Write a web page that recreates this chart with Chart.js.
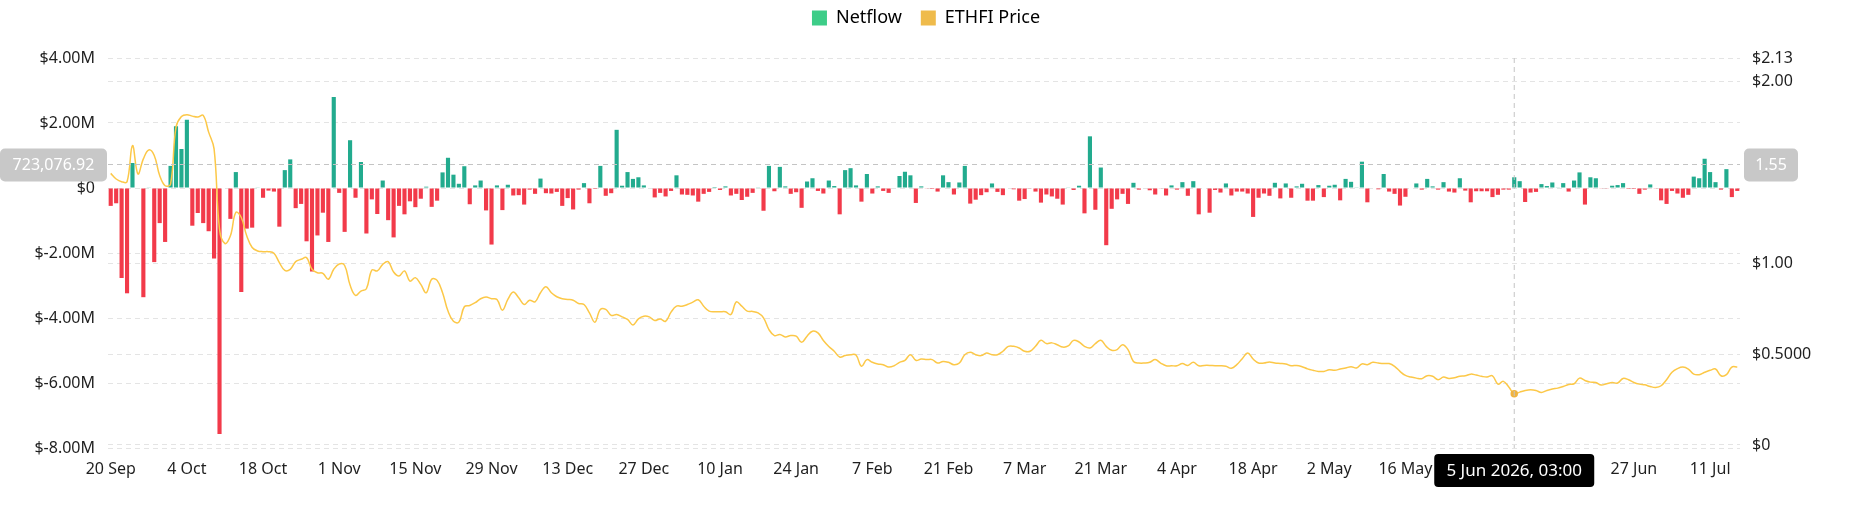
<!DOCTYPE html>
<html lang="en">
<head>
<meta charset="UTF-8">
<title>ETHFI Netflow</title>
<script src="https://cdn.jsdelivr.net/npm/chart.js@4.4.1/dist/chart.umd.min.js"></script>
<style>
  html, body { margin: 0; padding: 0; background: #fff; }
  #wrap { width: 1852px; height: 525px; position: relative; }
</style>
</head>
<body>
<div id="wrap"><canvas id="chart"></canvas></div>
<script>
    // daily series, first day 20 Sep 2025
    const START_DATE = Date.UTC(2025, 8, 20);
    const DAY_COUNT = 300;

    // tick labels, one every 14 days
    const TICK_LABELS = ['20 Sep', '4 Oct', '18 Oct', '1 Nov', '15 Nov', '29 Nov', '13 Dec', '27 Dec',
        '10 Jan', '24 Jan', '7 Feb', '21 Feb', '7 Mar', '21 Mar', '4 Apr', '18 Apr', '2 May',
        '16 May', '30 May', '13 Jun', '27 Jun', '11 Jul'];

    // netflow in $M
    const NETFLOW = [
        -0.55, -0.47, -2.77, -3.24, 0.77, 0, -3.36, 0.02, -2.28, -1.08,
        -1.66, 0.68, 1.9, 1.2, 2.1, -1.16, -0.77, -1.08, -1.33, -2.17,
        -7.57, 0, -0.95, 0.49, -3.2, -1.25, -1.22, 0.02, -0.3, -0.08,
        -0.11, -1.19, 0.55, 0.88, -0.62, -0.49, -1.64, -2.57, -1.46, -0.76,
        -1.66, 2.8, -0.15, -1.35, 1.47, -0.3, 0.8, -1.4, -0.35, -0.8,
        0.23, -0.99, -1.52, -0.55, -0.81, -0.41, -0.59, -0.33, 0.04, -0.58,
        -0.39, 0.48, 0.93, 0.41, 0.13, 0.67, -0.5, 0.08, 0.23, -0.69,
        -1.74, 0.08, -0.68, 0.1, -0.23, -0.22, -0.51, -0.05, -0.18, 0.29,
        -0.16, -0.17, -0.12, -0.55, -0.31, -0.66, -0.05, 0.15, -0.47, -0.03,
        0.68, -0.24, -0.16, 1.79, 0.07, 0.49, 0.28, 0.33, 0.08, 0,
        -0.29, -0.15, -0.26, -0.09, 0.39, -0.2, -0.21, -0.23, -0.42, -0.18,
        -0.12, 0.03, -0.06, 0.05, -0.23, -0.18, -0.37, -0.27, -0.15, 0.01,
        -0.7, 0.68, -0.1, 0.65, 0.05, -0.18, -0.13, -0.61, 0.2, 0.3,
        -0.09, -0.17, 0.23, 0.06, -0.81, 0.55, 0.61, 0.08, -0.42, 0.43,
        -0.17, 0.05, -0.09, -0.15, 0, 0.37, 0.5, 0.39, -0.46, 0.05,
        -0.02, -0.03, -0.11, 0.39, 0.18, -0.2, 0.17, 0.68, -0.48, -0.36,
        -0.22, -0.13, 0.14, -0.12, -0.22, 0, -0.04, -0.39, -0.34, -0.02,
        -0.11, -0.45, -0.2, -0.26, -0.33, -0.51, 0.02, -0.06, 0.07, -0.78,
        1.59, -0.67, 0.63, -1.76, -0.64, -0.35, -0.18, -0.49, 0.16, -0.05,
        0, -0.07, -0.2, -0.02, -0.23, 0.08, -0.05, 0.18, -0.24, 0.21,
        -0.81, 0, -0.76, -0.06, -0.14, 0.14, -0.23, -0.11, -0.11, -0.17,
        -0.89, -0.3, -0.17, -0.24, 0.16, -0.32, 0.14, -0.3, 0.05, 0.13,
        -0.39, -0.39, 0.09, -0.28, 0.07, 0.1, -0.38, 0.28, 0.19, 0.01,
        0.81, -0.44, 0, -0.04, 0.43, -0.11, -0.18, -0.54, -0.27, 0,
        0.14, -0.05, 0.28, 0.05, -0.05, 0.18, -0.11, -0.14, 0.3, -0.08,
        -0.44, -0.1, -0.1, -0.1, -0.28, -0.21, -0.05, -0.05, 0.33, 0.21,
        -0.43, -0.14, -0.12, 0.12, 0.06, 0.17, 0.02, 0.15, -0.11, 0.23,
        0.48, -0.51, 0.33, 0.3, -0.02, -0.01, 0.07, 0.09, 0.15, -0.03,
        -0.03, -0.18, -0.05, 0.11, -0.01, -0.38, -0.49, -0.09, -0.17, -0.3,
        -0.21, 0.35, 0.3, 0.9, 0.49, 0.18, -0.05, 0.58, -0.28, -0.09
    ];

    // ETHFI price in $
    const PRICE = [
        1.495, 1.464, 1.449, 1.449, 1.648, 1.492, 1.575, 1.624, 1.593, 1.483,
        1.427, 1.436, 1.75, 1.808, 1.818, 1.81, 1.805, 1.814, 1.722, 1.63,
        1.188, 1.109, 1.151, 1.28, 1.252, 1.151, 1.087, 1.068, 1.064, 1.064,
        1.055, 1.004, 0.961, 0.967, 1.009, 1.022, 1.031, 0.967, 0.948, 0.945,
        0.912, 0.967, 0.996, 0.988, 0.88, 0.823, 0.847, 0.86, 0.963, 0.958,
        0.994, 1.009, 0.952, 0.93, 0.958, 0.902, 0.921, 0.884, 0.838, 0.912,
        0.906, 0.838, 0.737, 0.681, 0.676, 0.761, 0.768, 0.783, 0.805, 0.814,
        0.805, 0.801, 0.742, 0.801, 0.842, 0.81, 0.773, 0.797, 0.788, 0.838,
        0.871, 0.838, 0.816, 0.805, 0.801, 0.797, 0.779, 0.773, 0.727, 0.676,
        0.746, 0.746, 0.713, 0.718, 0.705, 0.691, 0.661, 0.694, 0.709, 0.705,
        0.685, 0.694, 0.681, 0.731, 0.764, 0.764, 0.773, 0.786, 0.799, 0.764,
        0.737, 0.733, 0.733, 0.733, 0.718, 0.788, 0.764, 0.737, 0.735, 0.727,
        0.7, 0.635, 0.602, 0.608, 0.595, 0.602, 0.599, 0.565, 0.599, 0.626,
        0.617, 0.575, 0.542, 0.516, 0.484, 0.492, 0.497, 0.495, 0.433, 0.47,
        0.455, 0.446, 0.442, 0.429, 0.436, 0.455, 0.466, 0.497, 0.466, 0.473,
        0.47, 0.47, 0.451, 0.46, 0.455, 0.442, 0.451, 0.497, 0.51, 0.497,
        0.492, 0.506, 0.497, 0.497, 0.516, 0.543, 0.543, 0.534, 0.516, 0.516,
        0.543, 0.576, 0.558, 0.562, 0.552, 0.539, 0.545, 0.576, 0.567, 0.543,
        0.534, 0.558, 0.576, 0.543, 0.521, 0.525, 0.552, 0.525, 0.46, 0.451,
        0.451, 0.455, 0.47, 0.451, 0.436, 0.436, 0.436, 0.448, 0.438, 0.455,
        0.436, 0.438, 0.438, 0.436, 0.436, 0.433, 0.422, 0.442, 0.475, 0.506,
        0.473, 0.451, 0.451, 0.457, 0.451, 0.449, 0.446, 0.436, 0.438, 0.431,
        0.419, 0.411, 0.405, 0.405, 0.414, 0.411, 0.418, 0.424, 0.431, 0.424,
        0.446, 0.442, 0.455, 0.451, 0.448, 0.448, 0.433, 0.405, 0.383, 0.374,
        0.368, 0.365, 0.381, 0.378, 0.359, 0.374, 0.366, 0.37, 0.378, 0.381,
        0.39, 0.385, 0.378, 0.374, 0.381, 0.335, 0.35, 0.319, 0.282, 0.291,
        0.3, 0.304, 0.3, 0.289, 0.3, 0.308, 0.313, 0.322, 0.333, 0.337,
        0.368, 0.355, 0.346, 0.344, 0.33, 0.337, 0.344, 0.341, 0.366, 0.359,
        0.344, 0.335, 0.331, 0.322, 0.317, 0.326, 0.359, 0.4, 0.42, 0.429,
        0.418, 0.39, 0.387, 0.4, 0.411, 0.418, 0.381, 0.387, 0.429, 0.429
    ];

    const PRICE_TICKS = [0, 0.5, 1, 2, 2.13];

    // hover state shown in the picture
    const CROSS_INDEX = 258;
    const CROSS_NETFLOW = 0.72307692;
    const CROSS_LEFT_LABEL = '723,076.92';
    const CROSS_RIGHT_LABEL = '1.55';
    const CROSS_DATE_LABEL = '5 Jun 2026, 03:00';

    const GREEN = '#22ab8e';
    const RED = '#f23a4a';
    const YELLOW = '#fcc848';

    const MONTHS = ['Jan', 'Feb', 'Mar', 'Apr', 'May', 'Jun', 'Jul', 'Aug', 'Sep', 'Oct', 'Nov', 'Dec'];
    let labels = [];
    for (let i = 0; i < DAY_COUNT; i++) {
        let d = new Date(START_DATE + i * 86400000);
        labels.push(d.getUTCDate() + ' ' + MONTHS[d.getUTCMonth()] + ' ' + d.getUTCFullYear());
    }

    Chart.defaults.font.family = "'Noto Sans', sans-serif";
    Chart.defaults.font.size = 16;
    Chart.defaults.color = '#1f1f1f';

    const gridStyle = {
        color: '#e4e4e4',
        lineWidth: 1,
        drawTicks: false
    };

    function roundRect(ctx, x, y, w, h, r) {
        ctx.beginPath();
        ctx.moveTo(x + r, y);
        ctx.arcTo(x + w, y, x + w, y + h, r);
        ctx.arcTo(x + w, y + h, x, y + h, r);
        ctx.arcTo(x, y + h, x, y, r);
        ctx.arcTo(x, y, x + w, y, r);
        ctx.closePath();
    }

    const legendSpace = {
        id: 'legendSpace',
        beforeInit(chart) {
            const fit = chart.legend.fit;
            chart.legend.fit = function () {
                fit.bind(chart.legend)();
                this.height += 21;
            };
        }
    };

    const crosshair = {
        id: 'crosshair',
        afterDraw(chart) {
            const ctx = chart.ctx;
            const area = chart.chartArea;
            const x = chart.scales.x.getPixelForValue(CROSS_INDEX);
            const y = chart.scales.y.getPixelForValue(CROSS_NETFLOW);
            ctx.save();
            ctx.strokeStyle = '#c4c4c4';
            ctx.lineWidth = 1;
            ctx.setLineDash([5, 4]);
            ctx.beginPath();
            ctx.moveTo(x, area.top);
            ctx.lineTo(x, area.bottom);
            ctx.moveTo(area.left, y);
            ctx.lineTo(area.right, y);
            ctx.stroke();
            ctx.setLineDash([]);

            ctx.font = "16px 'Noto Sans', sans-serif";
            ctx.textBaseline = 'middle';
            ctx.textAlign = 'center';

            // left value box
            ctx.fillStyle = '#c8c8c8';
            roundRect(ctx, 0, y - 16, area.left - 1, 33, 5);
            ctx.fill();
            ctx.fillStyle = '#ffffff';
            ctx.fillText(CROSS_LEFT_LABEL, (area.left - 1) / 2, y + 1);

            // right value box
            ctx.fillStyle = '#c8c8c8';
            roundRect(ctx, area.right + 4, y - 16, 54, 33, 5);
            ctx.fill();
            ctx.fillStyle = '#ffffff';
            ctx.fillText(CROSS_RIGHT_LABEL, area.right + 31, y + 1);

            // date box on the x axis
            ctx.font = "17px 'Noto Sans', sans-serif";
            ctx.fillStyle = '#000000';
            roundRect(ctx, x - 80, area.bottom + 6, 160, 33, 4);
            ctx.fill();
            ctx.fillStyle = '#ffffff';
            ctx.fillText(CROSS_DATE_LABEL, x, area.bottom + 23);
            ctx.restore();
        }
    };

    let ctx = document.getElementById('chart').getContext('2d');
    let chart = new Chart(ctx, {
        data: {
            labels: labels,
            datasets: [{
                type: 'bar',
                label: 'Netflow',
                data: NETFLOW,
                yAxisID: 'y',
                order: 1,
                backgroundColor: (c) => (c.raw >= 0 ? GREEN : RED),
                categoryPercentage: 0.8,
                barPercentage: 0.95
            }, {
                type: 'line',
                label: 'ETHFI Price',
                data: PRICE,
                yAxisID: 'y1',
                order: 0,
                borderColor: YELLOW,
                borderWidth: 1.5,
                tension: 0.4,
                pointRadius: (c) => (c.dataIndex === CROSS_INDEX ? 3 : 0),
                pointBackgroundColor: '#f0b440',
                pointBorderColor: '#f0b440'
            }]
        },
        options: {
            responsive: true,
            maintainAspectRatio: false,
            animation: false,
            layout: { padding: { top: -10, bottom: 0, left: 0, right: 0 } },
            plugins: {
                tooltip: { enabled: false },
                legend: {
                    position: 'top',
                    labels: {
                        boxWidth: 15,
                        boxHeight: 15,
                        padding: 19,
                        font: { size: 18 },
                        color: '#333333',
                        generateLabels: (ch) => [
                            { text: 'Netflow', fillStyle: '#3dcd88', strokeStyle: '#3dcd88', lineWidth: 0, datasetIndex: 0 },
                            { text: 'ETHFI Price', fillStyle: '#efbb4b', strokeStyle: '#efbb4b', lineWidth: 0, datasetIndex: 1 }
                        ]
                    }
                }
            },
            scales: {
                x: {
                    type: 'category',
                    offset: true,
                    grid: { display: false, drawTicks: false },
                    border: { display: false },
                    ticks: {
                        autoSkip: false,
                        maxRotation: 0,
                        padding: 12,
                        callback: (v, i) => (i % 14 === 0 ? TICK_LABELS[i / 14] : '')
                    },
                    afterFit: (s) => { s.height = 77; }
                },
                y: {
                    position: 'left',
                    min: -8,
                    max: 4,
                    grid: gridStyle,
                    border: { display: false, dash: [5, 4] },
                    ticks: {
                        stepSize: 2,
                        padding: 13,
                        callback: (v) => (v === 0 ? '$0' : '$' + v.toFixed(2) + 'M')
                    },
                    afterFit: (s) => { s.width = 108; }
                },
                y1: {
                    position: 'right',
                    min: -0.0166,
                    max: 2.13,
                    grid: gridStyle,
                    border: { display: false, dash: [5, 4] },
                    afterBuildTicks: (s) => { s.ticks = PRICE_TICKS.map(v => ({ value: v })); },
                    ticks: {
                        padding: 12,
                        callback: (v) => (v === 0 ? '$0' : v < 1 ? '$' + v.toFixed(4) : '$' + v.toFixed(2))
                    },
                    afterFit: (s) => { s.width = 112; }
                }
            }
        },
        plugins: [legendSpace, crosshair]
    });
</script>
</body>
</html>
